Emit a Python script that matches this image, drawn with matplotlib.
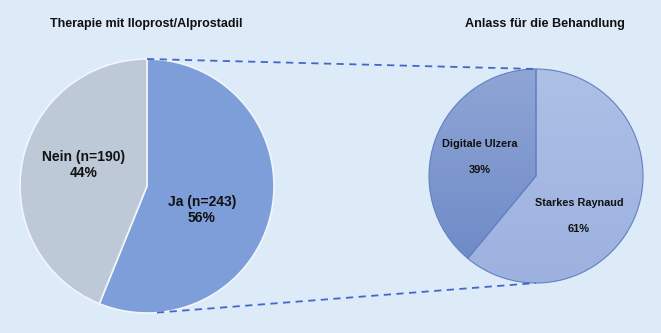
import matplotlib
matplotlib.use("Agg")
import matplotlib.pyplot as plt
import numpy as np
from matplotlib.colors import LinearSegmentedColormap

# Data
left_labels = ["Ja (n=243)", "Nein (n=190)"]
left_counts = [243, 190]
left_title = "Therapie mit Iloprost/Alprostadil"
right_labels = ["Starkes Raynaud", "Digitale Ulzera"]
right_pct = [61, 39]
right_title = "Anlass für die Behandlung"

BG = "#DDEAF8"
W, H = 661, 333
fig = plt.figure(figsize=(W / 100, H / 100), dpi=100, facecolor=BG)
ax = fig.add_axes([0, 0, 1, 1])
ax.set_xlim(0, W)
ax.set_ylim(0, H)
ax.set_aspect("equal")
ax.axis("off")
ax.set_facecolor(BG)

font = "Liberation Sans"

# Left pie
lc, lr = (147, 147), 127
lw, _ = ax.pie(left_counts, startangle=90, counterclock=False, center=lc, radius=lr,
               colors=["#7D9ED9", "#BDC9D6"],
               wedgeprops=dict(edgecolor="#F2F6FB", linewidth=1.2), frame=True)
tot = sum(left_counts)
ax.text(202, 333 - 210, f"{left_labels[0]}\n{round(100*left_counts[0]/tot)}%", ha="center", va="center",
        fontsize=10, fontweight="bold", family=font, color="#111111", linespacing=1.15)
ax.text(84, 333 - 165, f"{left_labels[1]}\n{round(100*left_counts[1]/tot)}%", ha="center", va="center",
        fontsize=10, fontweight="bold", family=font, color="#111111", linespacing=1.15)
ax.text(146, 333 - 24, left_title, ha="center", va="center", fontsize=9,
        fontweight="bold", family=font, color="#111111")

# Right pie
rc, rr = (536, 157), 107
rw, _ = ax.pie(right_pct, startangle=90, counterclock=False, center=rc, radius=rr,
               colors=["none", "none"],
               wedgeprops=dict(edgecolor="#6280C2", linewidth=0.8), frame=True)
grads = [["#ADC0E6", "#9CB1DF"], ["#8FA5D5", "#6B88C6"]]
for w, g in zip(rw, grads):
    cmap = LinearSegmentedColormap.from_list("g", [g[1], g[0]])
    grad = np.linspace(0, 1, 256).reshape(-1, 1)
    im = ax.imshow(grad, cmap=cmap, origin="lower", aspect="auto",
                   extent=(rc[0] - rr, rc[0] + rr, rc[1] - rr, rc[1] + rr), zorder=0.5)
    im.set_clip_path(w)
for w in rw:
    w.set_zorder(1)

ax.text(480, 333 - 144, right_labels[1], ha="center", va="center", fontsize=7.8,
        fontweight="bold", family=font, color="#111111")
ax.text(480, 333 - 170, f"{right_pct[1]}%", ha="center", va="center", fontsize=8,
        fontweight="bold", family=font, color="#111111")
ax.text(579, 333 - 203, right_labels[0], ha="center", va="center", fontsize=7.8,
        fontweight="bold", family=font, color="#111111")
ax.text(579, 333 - 229, f"{right_pct[0]}%", ha="center", va="center", fontsize=8,
        fontweight="bold", family=font, color="#111111")
ax.text(545, 333 - 24, right_title, ha="center", va="center", fontsize=9.1,
        fontweight="bold", family=font, color="#111111")

# Connector lines
a_bot = np.deg2rad(-85.5)
ax.plot([lc[0], rc[0]], [lc[1] + lr, rc[1] + rr], ls=(0, (4, 3)), color="#3F68C9", lw=1.3, zorder=3)
ax.plot([lc[0] + lr * np.cos(a_bot), rc[0]], [lc[1] + lr * np.sin(a_bot), rc[1] - rr],
        ls=(0, (4, 3)), color="#3F68C9", lw=1.3, zorder=3)

ax.set_xlim(0, W)
ax.set_ylim(0, H)
ax.set_xticks([]); ax.set_yticks([])
fig.savefig("out.png", dpi=100, facecolor=BG)
